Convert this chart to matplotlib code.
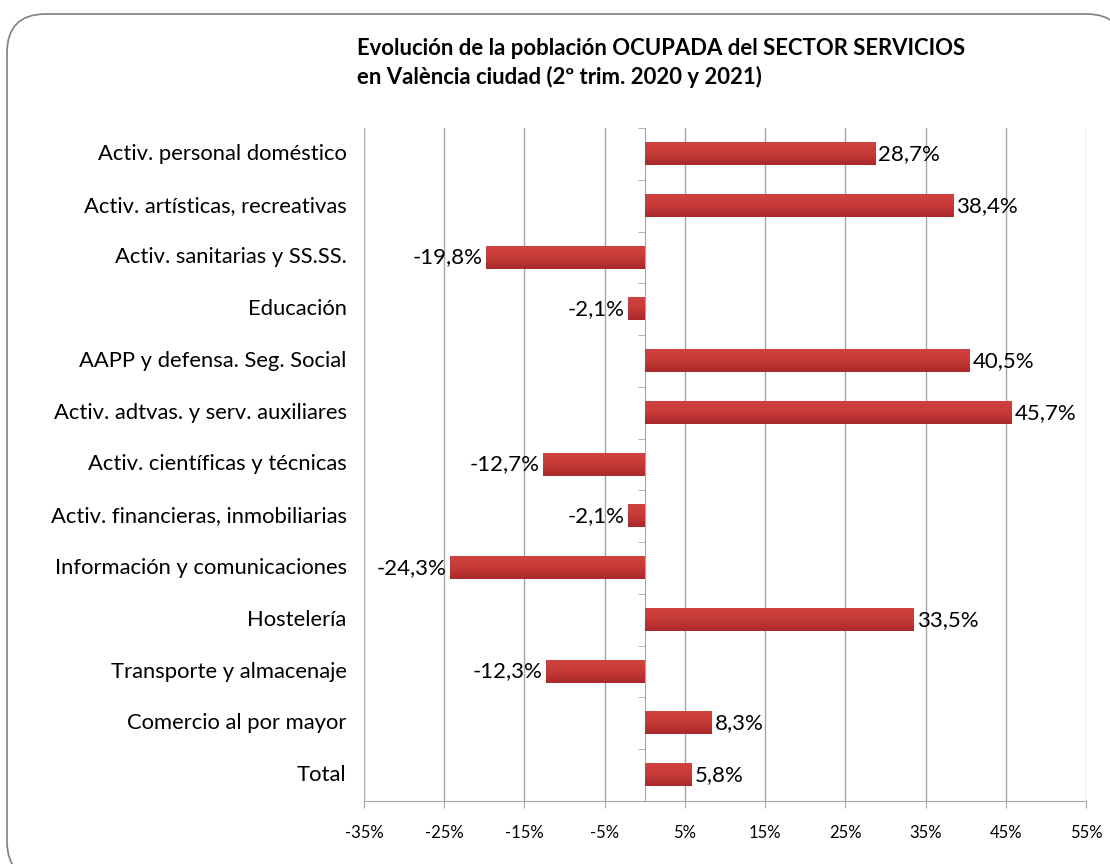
import numpy as np
import matplotlib
matplotlib.use("Agg")
import matplotlib.pyplot as plt
from matplotlib.patches import FancyBboxPatch
from matplotlib.colors import LinearSegmentedColormap

plt.rcParams['font.family'] = ['Lato', 'DejaVu Sans']

categories = [
    "Total",
    "Comercio al por mayor",
    "Transporte y almacenaje",
    "Hostelería",
    "Información y comunicaciones",
    "Activ. financieras, inmobiliarias",
    "Activ. científicas y técnicas",
    "Activ. adtvas. y serv. auxiliares",
    "AAPP y defensa. Seg. Social",
    "Educación",
    "Activ. sanitarias y SS.SS.",
    "Activ. artísticas, recreativas",
    "Activ. personal doméstico",
]
values = [5.8, 8.3, -12.3, 33.5, -24.3, -2.1, -12.7, 45.7, 40.5, -2.1, -19.8, 38.4, 28.7]
xticks = [-35, -25, -15, -5, 5, 15, 25, 35, 45, 55]
xticklabels = ["-35%", "-25%", "-15%", "-5%", "5%", "15%", "25%", "35%", "45%", "55%"]
title = "Evolución de la población OCUPADA del SECTOR SERVICIOS\nen València ciudad (2º trim. 2020 y 2021)"

W, H = 1110, 864
fig = plt.figure(figsize=(W / 100, H / 100), dpi=100)

# rounded frame
frame = FancyBboxPatch((7 / W, 1 - 880 / H), (1125 - 7) / W, (880 - 14) / H,
                       boxstyle="round,pad=0,rounding_size=0.035",
                       transform=fig.transFigure, facecolor="white",
                       edgecolor="#808080", linewidth=1.2, clip_on=False,
                       mutation_aspect=W / H, zorder=-5)
fig.patches.append(frame)

ax = fig.add_axes([364 / W, 1 - 801 / H, (1086 - 364) / W, (801 - 128) / H])
ax.set_facecolor("none")
ax.set_xlim(-35, 55)
n = len(categories)
ax.set_ylim(-0.5, n - 0.5)

grid_c = "#A6A6A6"
ax.set_xticks(xticks)
ax.set_xticklabels(xticklabels, fontsize=12, color="#000000")
ax.xaxis.grid(True, color=grid_c, linewidth=1.0)
ax.set_axisbelow(True)
ax.tick_params(axis='x', direction='out', length=5, color=grid_c, pad=12)

for s in ['top', 'right']:
    ax.spines[s].set_visible(False)
ax.spines['bottom'].set_color(grid_c)
ax.spines['left'].set_color(grid_c)
ax.spines['left'].set_position(('data', 0))

ax.set_yticks(np.arange(n))
ax.set_yticklabels([])
ax.tick_params(axis='y', which='major', length=0)
ax.set_yticks(np.arange(-0.5, n, 1.0), minor=True)
ax.tick_params(axis='y', which='minor', direction='out', length=5, color=grid_c)

cmap = LinearSegmentedColormap.from_list("bar", ["#CF4240", "#C63A38", "#A8292B"])
grad = np.linspace(0, 1, 64).reshape(-1, 1)
bh = 0.43
for i, v in enumerate(values):
    x0, x1 = (0, v) if v >= 0 else (v, 0)
    ax.imshow(grad, cmap=cmap, aspect='auto', origin='upper',
              extent=[x0, x1, i - bh / 2, i + bh / 2], zorder=3,
              interpolation='bilinear')
    lbl = f"{v:.1f}".replace(".", ",") + "%"
    if v >= 0:
        ax.text(v + 0.4, i, lbl, ha='left', va='center', fontsize=16, zorder=4)
    else:
        ax.text(v - 0.4, i, lbl, ha='right', va='center', fontsize=16, zorder=4)
    ax.text(-0.024, i, categories[i], transform=ax.get_yaxis_transform(),
            ha='right', va='center', fontsize=15.8)

ax.set_xlim(-35, 55)
ax.set_ylim(-0.5, n - 0.5)

fig.text(357 / W, 1 - 63 / H, title, ha='left', va='center', fontsize=15.9,
         fontweight='bold', linespacing=1.42)

fig.savefig("out.png", dpi=100)
